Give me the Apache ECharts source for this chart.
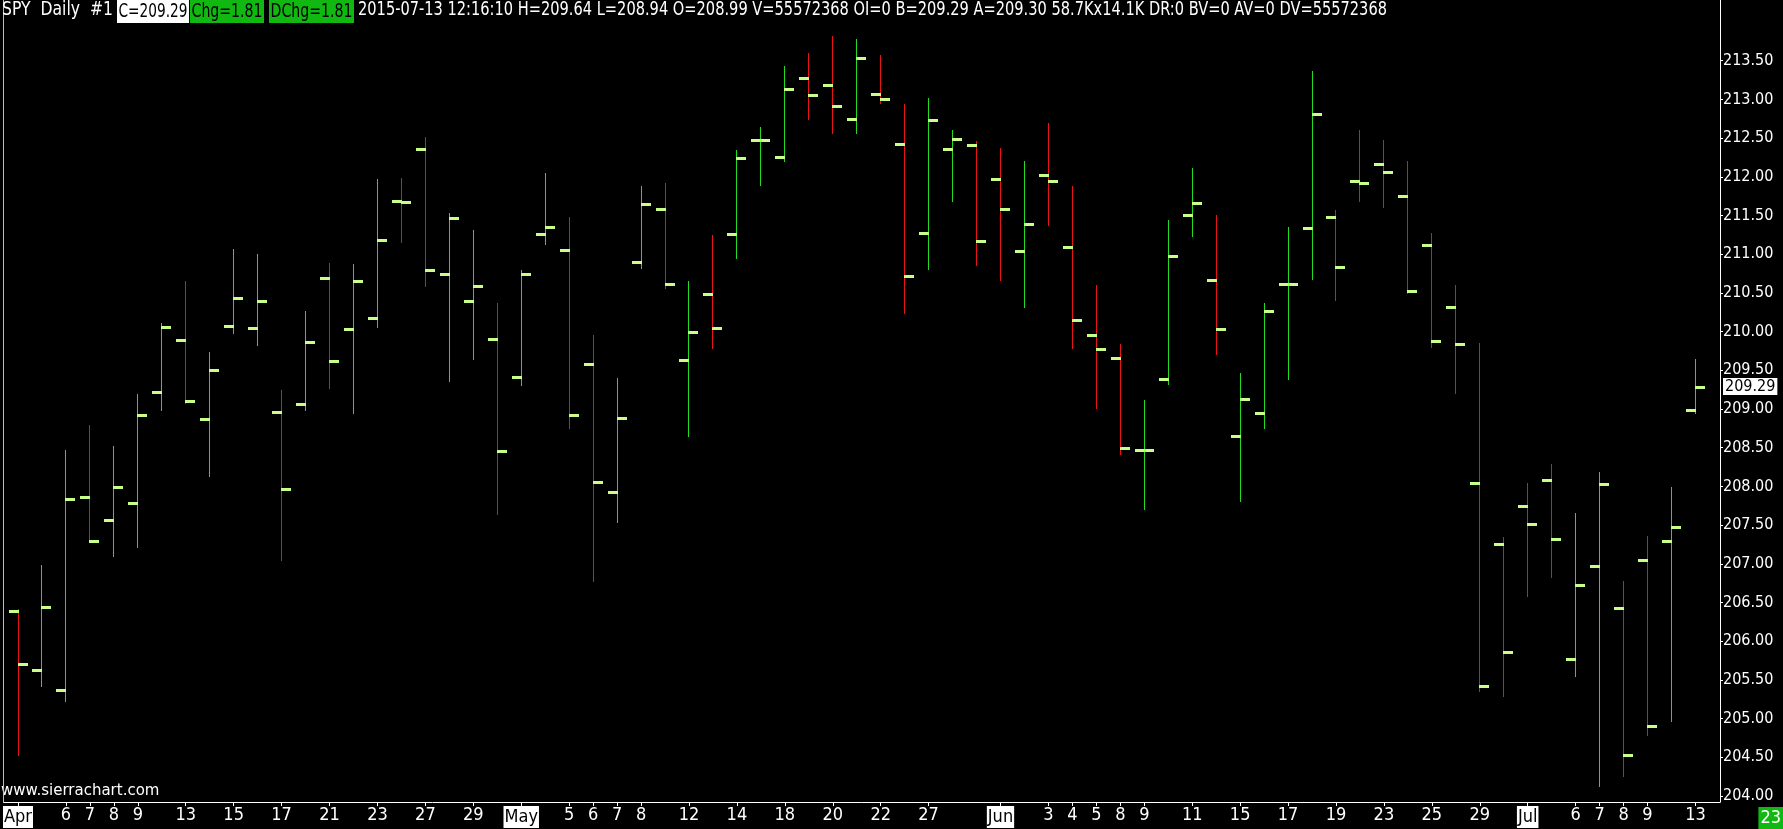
<!DOCTYPE html>
<html>
<head>
<meta charset="utf-8">
<script src="https://cdn.jsdelivr.net/npm/echarts@6/dist/echarts.min.js"></script>
<style>
html,body{margin:0;padding:0;background:#000;overflow:hidden;}
#c{width:1783px;height:829px;}
</style>
</head>
<body>
<div id="c"></div>
<script>
// ---- data (SPY daily, 2015-04-01 .. 2015-07-13), one entry per trading day ----
const openV  = [206.39,205.63,205.37,207.86,207.56,207.79,209.22,209.89,208.87,210.07,210.04,208.96,
                209.07,210.69,210.03,210.17,211.69,212.36,210.75,210.39,209.91,209.41,211.26,211.05,
                209.58,207.93,210.90,211.59,209.63,210.48,211.26,212.47,212.26,213.27,213.18,212.75,
                213.07,212.42,211.28,212.36,212.41,211.97,211.04,212.02,211.09,209.96,209.66,208.47,
                209.39,211.50,210.67,208.65,208.95,210.62,211.34,211.48,211.94,212.17,211.75,211.12,
                210.32,208.05,207.26,207.75,208.08,205.77,206.97,206.43,207.05,207.29,208.99];
const highV  = [206.42,206.99,208.47,208.79,208.52,209.19,210.11,210.65,209.73,211.07,211.00,209.24,
                210.27,210.89,210.87,211.97,211.99,212.51,211.53,211.31,210.37,210.79,212.05,211.48,
                209.96,209.40,211.88,211.92,210.65,211.25,212.35,212.64,213.43,213.60,213.82,213.78,
                213.57,212.94,213.02,212.61,212.46,212.37,212.21,212.69,211.88,210.60,209.84,209.12,
                211.44,212.11,211.50,209.47,210.37,211.35,213.37,211.57,212.61,212.47,212.20,211.28,
                210.60,209.85,207.34,208.05,208.29,207.65,208.19,206.78,207.36,207.99,209.64];
const lowV   = [204.52,205.41,205.22,207.27,207.09,207.21,208.98,209.06,208.12,209.97,209.82,207.03,
                208.98,209.26,208.93,210.04,211.14,210.57,209.35,209.63,207.63,209.30,211.12,208.74,
                206.77,207.53,210.81,210.55,208.64,209.77,210.94,211.88,212.19,212.73,212.55,212.55,
                212.94,210.23,210.79,211.67,210.85,210.65,210.30,211.36,209.78,209.00,208.41,207.70,
                209.31,211.22,209.70,207.80,208.74,209.38,210.66,210.39,211.67,211.60,210.49,209.79,
                209.19,205.34,205.28,206.57,206.82,205.54,204.11,204.25,204.78,204.96,208.94];
const closeV = [205.70,206.44,207.84,207.29,207.99,208.92,210.06,209.10,209.50,210.44,210.39,207.97,
                209.87,209.62,210.65,211.18,211.68,210.79,211.47,210.59,208.46,210.74,211.35,208.92,
                208.06,208.88,211.65,210.62,209.99,210.04,212.24,212.47,213.14,213.06,212.91,213.53,
                213.01,210.72,212.74,212.49,211.17,211.59,211.39,211.94,210.15,209.78,208.50,208.47,
                210.98,211.66,210.03,209.13,210.27,210.62,212.81,210.83,211.92,212.06,210.52,209.88,
                209.84,205.42,205.86,207.51,207.32,206.73,208.03,204.53,204.91,207.48,209.29];

// x-axis ticks: bar index -> label
const xTickIndex = [0,2,3,4,5,7,9,11,13,15,17,19,21,23,24,25,26,28,30,32,34,36,38,41,43,44,45,46,47,49,51,53,55,57,59,61,63,65,66,67,68,70];
const xTickText  = ['Apr','6','7','8','9','13','15','17','21','23','27','29','May','5','6','7','8','12','14','18','20','22','27','Jun','3','4','5','8','9','11','15','17','19','23','25','29','Jul','6','7','8','9','13'];
const monthLabels = ['Apr','May','Jun','Jul'];

// y-axis ticks
const yTicks = [204.0,204.5,205.0,205.5,206.0,206.5,207.0,207.5,208.0,208.5,209.0,209.5,
                210.0,210.5,211.0,211.5,212.0,212.5,213.0,213.5];

// header texts
const headSymbol = 'SPY  Daily  #1';
const headClose  = 'C=209.29';
const headChg    = 'Chg=1.81';
const headDChg   = 'DChg=1.81';
const headRest   = '2015-07-13 12:16:10 H=209.64 L=208.94 O=208.99 V=55572368 OI=0 B=209.29 A=209.30 58.7Kx14.1K DR:0 BV=0 AV=0 DV=55572368';
const lastPrice  = 209.29;
const cornerText = '23';
const watermark  = 'www.sierrachart.com';

// ---- build ----
const UP = '#22dd22', DOWN = '#e81414', TICK = '#c8ff88', BOXGREEN = '#12b812';
const NARROW = '"DejaVu Sans Condensed","DejaVu Sans",sans-serif';
const AXFONT = '"DejaVu Sans Condensed","DejaVu Sans",sans-serif';

const ohlc = openV.map((o, i) => [i, o, highV[i], lowV[i], closeV[i]]);
const labelOf = {};
xTickIndex.forEach((v, k) => labelOf[v] = xTickText[k]);

const YMIN = 203.922, YMAX = 214.284;

// header text pieces squeezed horizontally to fit their slots (narrow font look)
const mctx = document.createElement('canvas').getContext('2d');
const HFONT = '20px ' + NARROW;
function headText(text, x, width, fill, bg) {
  mctx.font = HFONT;
  const pad = bg ? 4 : 0;
  const w = mctx.measureText(text).width + pad;
  const st = {text: text, fill: fill, font: HFONT, textVerticalAlign: 'top', textAlign: 'left'};
  if (bg) { st.backgroundColor = bg; st.padding = [2, 2, 1, 2]; }
  return {type: 'text', x: x, y: 0, scaleX: width / w, style: st, z: 10};
}

const chart = echarts.init(document.getElementById('c'), null, {renderer: 'canvas'});
chart.setOption({
  animation: false,
  backgroundColor: '#000',
  grid: {left: 1, right: 63, top: 0, bottom: 27, containLabel: false},
  xAxis: {
    type: 'value', min: -0.6, max: 71.025,
    axisLine: {show: true, onZero: false, lineStyle: {color: '#fff', width: 1}},
    splitLine: {show: false},
    axisTick: {show: true, customValues: xTickIndex, length: 4, lineStyle: {color: '#fff'}},
    axisLabel: {
      customValues: xTickIndex,
      color: '#fff', fontFamily: NARROW, fontSize: 18, margin: 4,
      formatter: v => {
        const t = labelOf[Math.round(v)] || '';
        return monthLabels.indexOf(t) >= 0 ? '{m|' + t + '}' : t;
      },
      rich: {m: {backgroundColor: '#fff', color: '#000', fontFamily: NARROW, fontSize: 18, padding: [2, 1, 2, 1]}}
    }
  },
  yAxis: [{
    type: 'value', position: 'right', min: YMIN, max: YMAX,
    axisLine: {show: true, onZero: false, lineStyle: {color: '#fff', width: 1}},
    splitLine: {show: false},
    axisTick: {show: true, customValues: yTicks, length: 3, lineStyle: {color: '#fff'}},
    axisLabel: {customValues: yTicks, color: '#fff', fontFamily: AXFONT, fontSize: 16, margin: 3,
                formatter: v => Number(v).toFixed(2)}
  }, {
    type: 'value', position: 'left', min: YMIN, max: YMAX,
    axisLine: {show: true, onZero: false, lineStyle: {color: '#bbb', width: 1}},
    splitLine: {show: false}, axisTick: {show: false}, axisLabel: {show: false}
  }],
  series: [{
    type: 'custom',
    xAxisIndex: 0, yAxisIndex: 0,
    data: ohlc,
    renderItem: (params, api) => {
      const i = api.value(0), o = api.value(1), h = api.value(2), l = api.value(3), c = api.value(4);
      const pH = api.coord([i, h]), pL = api.coord([i, l]);
      const pO = api.coord([i, o]), pC = api.coord([i, c]);
      const x = Math.floor(pH[0]);
      const col = c >= o ? UP : DOWN;
      const yo = Math.round(pO[1]) - 1, yc = Math.round(pC[1]) - 1;
      return {type: 'group', children: [
        {type: 'rect', shape: {x: x, y: Math.round(pH[1]), width: 1, height: Math.max(1, Math.round(pL[1]) - Math.round(pH[1]))}, style: {fill: col}},
        {type: 'rect', shape: {x: x - 9, y: yo, width: 10, height: 3}, style: {fill: TICK}},
        {type: 'rect', shape: {x: x, y: yc, width: 10, height: 3}, style: {fill: TICK}}
      ]};
    },
    markLine: {
      silent: true, symbol: 'none', animation: false,
      lineStyle: {color: 'rgba(0,0,0,0)', width: 0, type: 'solid'},
      data: [{yAxis: lastPrice}],
      label: {show: true, position: 'end', distance: 3, formatter: lastPrice.toFixed(2),
              color: '#000', backgroundColor: '#fff', fontFamily: AXFONT, fontSize: 16, padding: [1, 2, 0, 2]}
    }
  }],
  graphic: [
    headText(headSymbol, 2, 111, '#fff', null),
    headText(headClose, 117, 72, '#000', '#fff'),
    headText(headChg, 190, 74, '#000', BOXGREEN),
    headText(headDChg, 269, 85, '#000', BOXGREEN),
    headText(headRest, 358, 1029, '#fff', null),
    {type: 'text', left: 1, top: 784, style: {text: watermark, fill: '#fff', font: '15px "DejaVu Sans",sans-serif'}},
    {type: 'text', right: 0, bottom: 0, style: {text: cornerText, fill: '#fff', backgroundColor: BOXGREEN, padding: [2, 2, 2, 2], font: '18px ' + NARROW}}
  ]
});
</script>
</body>
</html>
